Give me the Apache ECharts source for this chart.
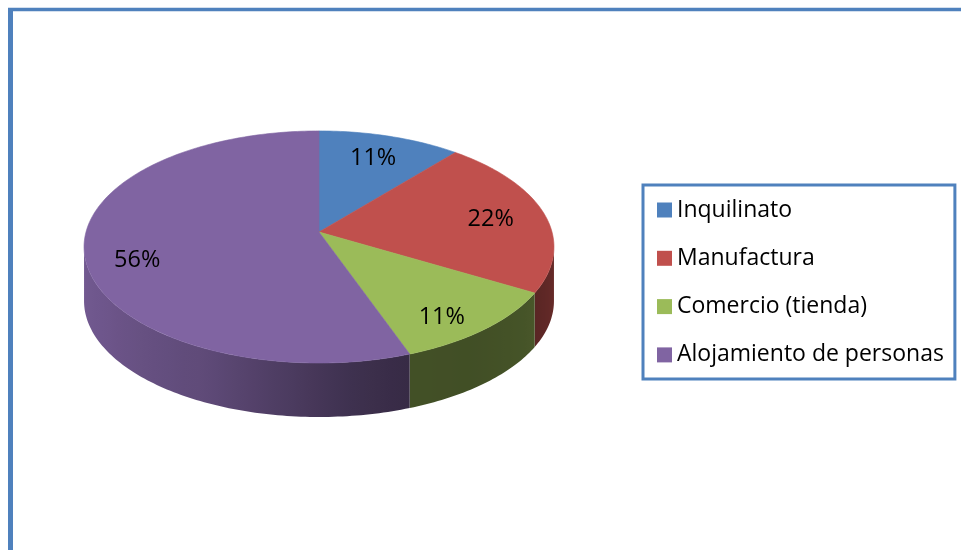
<!DOCTYPE html>
<html>
<head>
<meta charset="utf-8">
<script src="https://cdn.jsdelivr.net/npm/echarts@6/dist/echarts.min.js"></script>
<style>
  html, body { margin: 0; padding: 0; background: #ffffff; }
  #chart { width: 961px; height: 550px; }
</style>
</head>
<body>
<div id="chart"></div>
<script>
// Establishments by type of use
const categories = ['Inquilinato', 'Manufactura', 'Comercio (tienda)', 'Alojamiento de personas'];
const values = [1, 2, 1, 5];
const palette = ['#4F81BD', '#C0504D', '#9BBB59', '#8064A2'];

const total = values.reduce((s, v) => s + v, 0);
const startFrac = values.map((_, i) => values.slice(0, i).reduce((s, v) => s + v, 0) / total);

// Tilted disc seen in perspective: centre, half-axes, perspective strength, wall height
const PIE = { cx: 319, cy: 232, rx: 233, ry: 114.1, persp: 0.129, depth: 54 };
const TAU = Math.PI * 2;

function project(u, v) {
  const d = 1 + PIE.persp * v;
  return [PIE.cx + PIE.rx * u / d, PIE.cy - PIE.ry * v / d];
}
// angle measured clockwise from 12 o'clock
function rim(t, r) {
  r = r == null ? 1 : r;
  return project(r * Math.sin(t), r * Math.cos(t));
}
// the outer wall is only visible between the two silhouette points
const wallFrom = Math.acos(-PIE.persp);
const wallTo = TAU - wallFrom;

function arcPoints(a, b, r, dy) {
  const n = Math.max(2, Math.ceil((b - a) / (Math.PI / 180)));
  const pts = [];
  for (let j = 0; j <= n; j++) {
    const p = rim(a + (b - a) * j / n, r);
    pts.push([p[0], p[1] + (dy || 0)]);
  }
  return pts;
}

// brightness of the outer wall by angle (degrees), lit from the upper left
const SHADE = [[97, 0.55], [125, 0.45], [145, 0.42], [162, 0.43], [175, 0.5], [205, 0.74], [240, 0.86], [263, 0.9]];
function shadeAt(t) {
  const deg = t * 180 / Math.PI;
  if (deg <= SHADE[0][0]) return SHADE[0][1];
  for (let j = 1; j < SHADE.length; j++) {
    if (deg <= SHADE[j][0]) {
      const [d0, f0] = SHADE[j - 1], [d1, f1] = SHADE[j];
      return f0 + (f1 - f0) * (deg - d0) / (d1 - d0);
    }
  }
  return SHADE[SHADE.length - 1][1];
}
function tint(hex, f) {
  const n = parseInt(hex.slice(1), 16);
  const r = Math.round(((n >> 16) & 255) * f);
  const g = Math.round(((n >> 8) & 255) * f);
  const b = Math.round((n & 255) * f);
  return 'rgb(' + r + ',' + g + ',' + b + ')';
}

function sliceRenderer(i) {
  return function (params, api) {
    const value = api.value(0);
    const a = startFrac[i] * TAU;
    const b = a + value / total * TAU;
    const color = palette[i];
    const children = [];

    const wa = Math.max(a, wallFrom), wb = Math.min(b, wallTo);
    if (wb > wa) {
      const top = arcPoints(wa, wb, 1, 0);
      const bottom = arcPoints(wa, wb, 1, PIE.depth).reverse();
      const xs = top.map(p => p[0]);
      const xL = Math.min.apply(null, xs), xR = Math.max.apply(null, xs);
      const stops = [];
      const n = 24;
      for (let j = 0; j <= n; j++) {
        const t = wb - (wb - wa) * j / n;
        const x = rim(t)[0];
        stops.push({ offset: xR > xL ? Math.min(1, Math.max(0, (x - xL) / (xR - xL))) : 0, color: tint(color, shadeAt(t)) });
      }
      children.push({
        type: 'polygon',
        shape: { points: top.concat(bottom) },
        style: { fill: new echarts.graphic.LinearGradient(xL, 0, xR, 0, stops, true), stroke: null }
      });
    }

    const face = [[PIE.cx, PIE.cy]].concat(arcPoints(a, b, 1, 0));
    children.push({
      type: 'polygon',
      shape: { points: face },
      style: { fill: color, stroke: color, lineWidth: 0.6 }
    });

    const mid = (a + b) / 2;
    const lp = rim(mid, 0.77);
    const onFront = mid > wallFrom && mid < wallTo;
    children.push({
      type: 'text',
      x: lp[0] - 2,
      y: lp[1] + (onFront ? PIE.depth * 0.2 : 0) + 2,
      z2: 10,
      style: {
        text: Math.round(value / total * 100) + '%',
        fill: '#000000',
        font: '23.5px "Open Sans"',
        align: 'center',
        verticalAlign: 'middle'
      }
    });
    return { type: 'group', children: children };
  };
}

const chart = echarts.init(document.getElementById('chart'), null, { renderer: 'canvas' });
chart.setOption({
  animation: false,
  color: palette,
  backgroundColor: '#ffffff',
  graphic: [
    { type: 'line', shape: { x1: 10.5, y1: 8, x2: 10.5, y2: 560 }, style: { stroke: '#4F81BD', lineWidth: 5 } },
    { type: 'line', shape: { x1: 8, y1: 9.5, x2: 970, y2: 9.5 }, style: { stroke: '#4F81BD', lineWidth: 3.5 } }
  ],
  legend: {
    orient: 'vertical',
    left: 643,
    top: 185,
    icon: 'rect',
    itemWidth: 15,
    itemHeight: 15,
    itemGap: 24.3,
    padding: [13, 11, 12, 14],
    borderColor: '#4F81BD',
    borderWidth: 3,
    selectedMode: false,
    textStyle: { fontFamily: 'Open Sans', fontSize: 23, color: '#000000', lineHeight: 24 },
    data: categories
  },
  series: categories.map((name, i) => ({
    type: 'custom',
    name: name,
    coordinateSystem: 'none',
    silent: true,
    itemStyle: { color: palette[i] },
    data: [values[i]],
    renderItem: sliceRenderer(i)
  }))
});
</script>
</body>
</html>
